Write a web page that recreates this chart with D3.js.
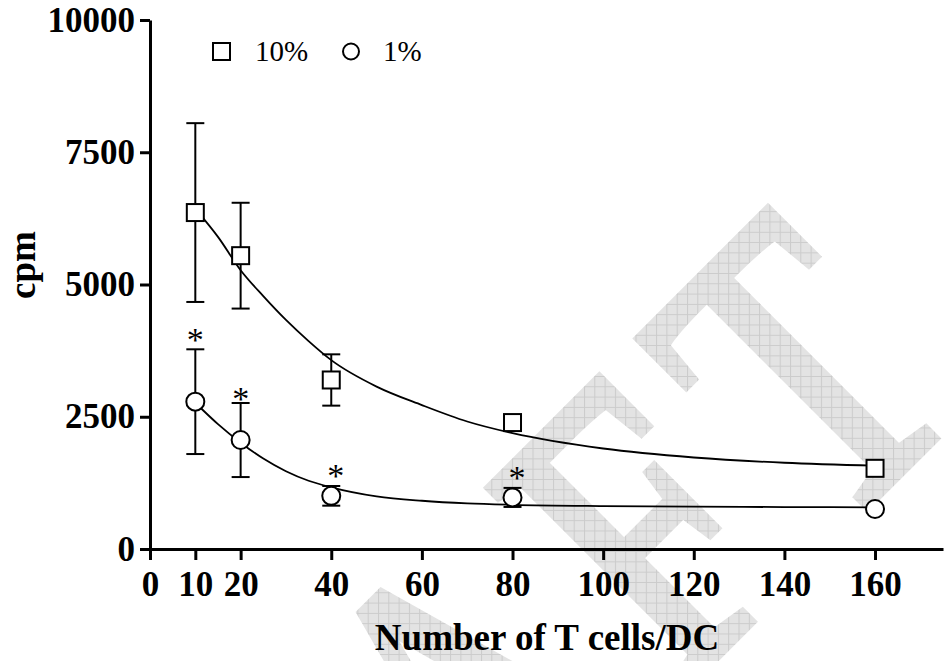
<!DOCTYPE html>
<html>
<head>
<meta charset="utf-8">
<script src="https://cdn.jsdelivr.net/npm/d3@7"></script>
<style>
  body { margin: 0; background: #fff; }
  text { font-family: "Liberation Serif", "Times New Roman", serif; }
</style>
</head>
<body>
<div id="chart"></div>
<script>
// T cells per DC
let xTicks = [0, 10, 20, 40, 60, 80, 100, 120, 140, 160];
let yTicks = [0, 2500, 5000, 7500, 10000];

let tcells = [10, 20, 40, 80, 160];
// 10% series: mean and error (cpm)
let mean10 = [6360, 5545, 3195, 2390, 1525];
let err10 = [1690, 1000, 485, 0, 0];
// 1% series
let mean1 = [2785, 2060, 1005, 975, 756];
let err1 = [990, 700, 186, 180, 0];

// asterisks over the 1% points (x, cpm)
let starX = [10, 20, 41, 81];
let starY = [4110, 2985, 1540, 1495];

// fitted curves
let fit10 = [[11, 6330], [15, 5900], [20, 5270], [25, 4780], [30, 4330], [35, 3930], [40, 3570],
    [50, 3070], [60, 2720], [70, 2410], [80, 2190], [100, 1900], [120, 1730], [140, 1630], [160, 1575]];
let fit1 = [[11, 2680], [15, 2360], [20, 2010], [25, 1710], [30, 1470], [35, 1290], [40, 1166],
    [50, 995], [60, 912], [70, 862], [80, 836], [100, 812], [120, 800], [140, 793], [160, 788]];

let legendNames = ["10%", "1%"];

let width = 948, height = 661;

let svg = d3.select("#chart")
    .append("svg")
    .attr("width", width)
    .attr("height", height);

let x = d3.scaleLinear().domain([0, 175]).range([150, 943]);
let y = d3.scaleLinear().domain([0, 10000]).range([549, 20]);

// watermark, hatched
let defs = svg.append("defs");
let sx = 0.75;
let pat = defs.append("pattern")
    .attr("id", "hatch")
    .attr("patternUnits", "userSpaceOnUse")
    .attr("width", 10.3)
    .attr("height", 10.3)
    .attr("patternTransform", "scale(" + (1 / sx) + ",1) rotate(45)");
pat.append("rect").attr("width", 10.3).attr("height", 10.3).attr("fill", "#e3e3e3");
pat.append("path").attr("d", "M0,0.5H10.3M0.5,0V10.3")
    .attr("stroke", "#cbcbcb").attr("stroke-width", 1).attr("fill", "none");

svg.append("text")
    .attr("transform", "translate(996,376) rotate(-45) scale(" + sx + ",1)")
    .attr("text-anchor", "end")
    .style("font-size", "425px")
    .style("letter-spacing", "50px")
    .attr("fill", "url(#hatch)")
    .attr("stroke", "url(#hatch)")
    .attr("stroke-width", 11)
    .attr("stroke-linejoin", "miter")
    .text("DRAFT");

// axes
svg.append("g")
    .attr("transform", "translate(0," + y(0) + ")")
    .call(d3.axisBottom(x).tickValues(xTicks).tickSize(11).tickSizeOuter(0).tickPadding(11));

svg.append("g")
    .attr("transform", "translate(" + x(0) + ",0)")
    .call(d3.axisLeft(y).tickValues(yTicks).tickFormat(d3.format("d"))
        .tickSize(10).tickSizeOuter(0).tickPadding(5));

svg.selectAll(".domain, .tick line")
    .attr("stroke", "#000")
    .attr("stroke-width", 3);

svg.selectAll(".tick text")
    .attr("fill", "#000")
    .style("font-size", "35px")
    .style("font-weight", "bold")
    .style("font-family", "'Liberation Serif', 'Times New Roman', serif");

// axis titles
svg.append("text")
    .attr("x", 547)
    .attr("y", 650)
    .attr("text-anchor", "middle")
    .style("font-size", "37px")
    .style("font-weight", "bold")
    .text("Number of T cells/DC");

svg.append("text")
    .attr("transform", "translate(35,265) rotate(-90)")
    .attr("text-anchor", "middle")
    .style("font-size", "37px")
    .style("font-weight", "bold")
    .text("cpm");

// curves
let line = d3.line()
    .x(function (d) { return x(d[0]); })
    .y(function (d) { return y(d[1]); })
    .curve(d3.curveMonotoneX);

svg.append("path").attr("d", line(fit10))
    .attr("fill", "none").attr("stroke", "#000").attr("stroke-width", 1.8);
svg.append("path").attr("d", line(fit1))
    .attr("fill", "none").attr("stroke", "#000").attr("stroke-width", 1.8);

// error bars
function errorBars(means, errs) {
    let rows = tcells.map(function (t, i) { return { t: t, m: means[i], e: errs[i] }; })
        .filter(function (d) { return d.e > 0; });
    let g = svg.append("g").attr("stroke", "#000").attr("stroke-width", 2);
    g.selectAll("line.v").data(rows).enter().append("line")
        .attr("x1", function (d) { return x(d.t); })
        .attr("x2", function (d) { return x(d.t); })
        .attr("y1", function (d) { return y(d.m - d.e); })
        .attr("y2", function (d) { return y(d.m + d.e); });
    [1, -1].forEach(function (s) {
        g.selectAll("line.c" + s).data(rows).enter().append("line")
            .attr("x1", function (d) { return x(d.t) - 9; })
            .attr("x2", function (d) { return x(d.t) + 9; })
            .attr("y1", function (d) { return y(d.m + s * d.e); })
            .attr("y2", function (d) { return y(d.m + s * d.e); });
    });
}
errorBars(mean10, err10);
errorBars(mean1, err1);

// markers
svg.append("g").selectAll("rect")
    .data(tcells)
    .enter()
    .append("rect")
    .attr("x", function (d) { return x(d) - 8.5; })
    .attr("y", function (d, i) { return y(mean10[i]) - 8.5; })
    .attr("width", 17)
    .attr("height", 17)
    .attr("fill", "#fff")
    .attr("stroke", "#000")
    .attr("stroke-width", 2);

svg.append("g").selectAll("circle")
    .data(tcells)
    .enter()
    .append("circle")
    .attr("cx", function (d) { return x(d); })
    .attr("cy", function (d, i) { return y(mean1[i]); })
    .attr("r", 9)
    .attr("fill", "#fff")
    .attr("stroke", "#000")
    .attr("stroke-width", 2);

// asterisks
svg.append("g").selectAll("text")
    .data(starX)
    .enter()
    .append("text")
    .attr("x", function (d) { return x(d); })
    .attr("y", function (d, i) { return y(starY[i]) + 19; })
    .attr("text-anchor", "middle")
    .style("font-size", "34px")
    .text("*");

// legend
let legend = svg.append("g");
legend.append("rect")
    .attr("x", 213).attr("y", 43).attr("width", 17).attr("height", 17)
    .attr("fill", "#fff").attr("stroke", "#000").attr("stroke-width", 2);
legend.append("text")
    .attr("x", 255).attr("y", 61)
    .style("font-size", "29px")
    .text(legendNames[0]);
legend.append("circle")
    .attr("cx", 351).attr("cy", 51.5).attr("r", 8)
    .attr("fill", "#fff").attr("stroke", "#000").attr("stroke-width", 2);
legend.append("text")
    .attr("x", 383).attr("y", 61)
    .style("font-size", "29px")
    .text(legendNames[1]);
</script>
</body>
</html>
